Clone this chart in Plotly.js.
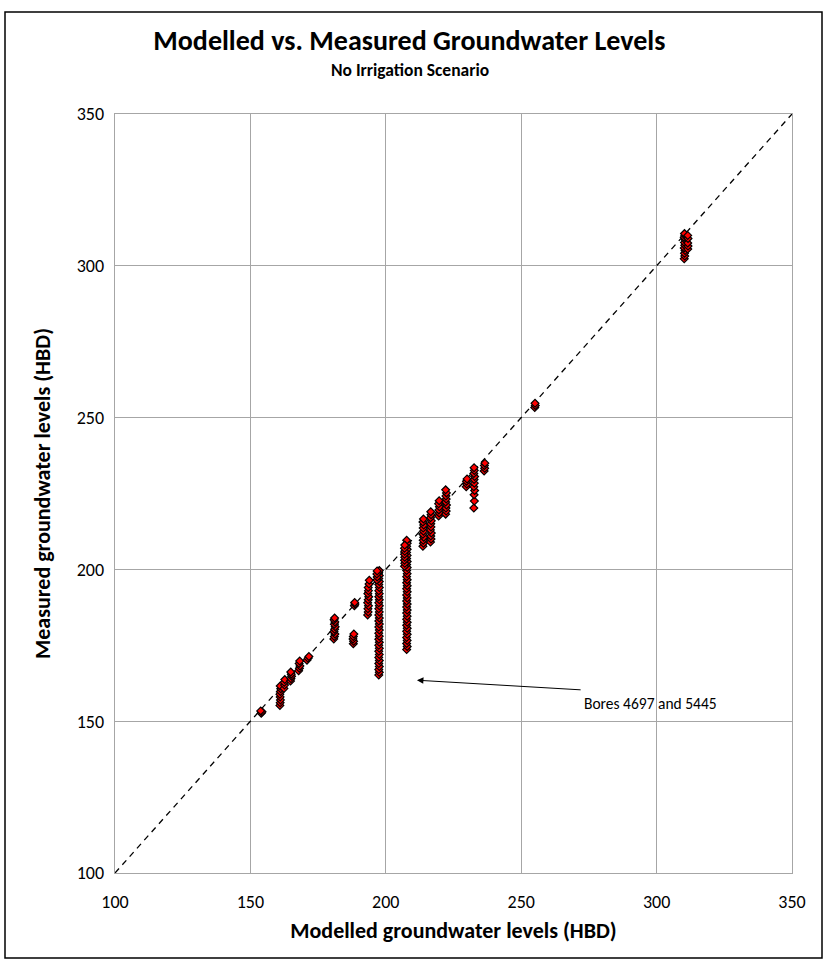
<!DOCTYPE html>
<html>
<head>
<meta charset="utf-8">
<script src="https://cdn.plot.ly/plotly-3.0.1.min.js"></script>
<style>
html,body{margin:0;padding:0;background:#fff;}
#chart{width:827px;height:970px;}
</style>
</head>
<body>
<div id="chart"></div>
<script>
// Modelled (x) vs measured (y) groundwater levels, HBD
const modelledHBD = [
  154.0,154.3,153.8,
  160.9,161.0,161.1,161.0,160.9,161.1,161.2,161.0,
  162.4,162.6,162.5,162.7,
  164.8,165.0,165.2,165.1,164.9,
  167.8,168.1,168.3,168.0,168.2,
  170.9,171.3,171.6,
  180.8,181.0,181.2,180.9,181.1,181.3,181.0,181.2,180.9,181.1,
  188.4,188.6,188.5,
  188.0,188.1,187.9,188.0,188.2,
  193.3,193.5,193.4,193.6,193.3,193.5,193.7,193.4,193.6,193.5,193.8,193.9,
  197.4,197.6,197.4,197.6,197.4,197.6,197.4,197.6,197.4,197.6,197.4,197.6,197.4,197.6,197.4,197.6,197.4,197.6,
  197.4,197.6,197.4,197.6,197.4,197.6,197.4,197.6,197.4,197.6,197.4,197.6,197.4,197.6,197.4,197.6,197.4,197.6,
  196.7,196.8,196.7,196.8,
  207.7,207.9,207.7,207.9,207.7,207.9,207.7,207.9,207.7,207.9,207.7,207.9,207.7,207.9,207.7,207.9,207.7,207.9,207.7,
  207.9,207.7,207.9,207.7,207.9,207.7,207.9,207.7,207.9,207.7,207.9,207.7,207.9,207.7,207.9,207.7,207.9,207.7,
  206.9,207.0,206.9,207.0,206.9,207.0,206.9,207.0,
  213.7,213.9,213.8,214.0,213.7,213.9,213.8,214.0,213.7,213.9,
  216.5,216.7,216.6,216.8,216.5,216.7,216.6,216.8,216.5,216.7,216.6,
  219.5,219.7,219.6,219.8,219.5,219.7,
  222.1,222.3,222.2,222.4,222.1,222.3,222.2,222.4,222.1,
  229.7,229.9,229.8,230.0,
  232.5,232.7,232.6,232.8,232.5,232.7,232.6,232.8,232.5,232.7,232.6,
  236.3,236.5,236.4,236.6,
  255.0,255.2,255.1,
  310.2,310.4,310.3,310.5,310.2,310.4,310.3,310.5,310.2,310.4,310.3,
  311.5,311.6,311.5,311.6,311.5
];
const measuredHBD = [
  152.6,153.1,153.4,
  155.2,156.1,157.0,158.0,158.9,159.8,160.7,161.6,
  160.8,161.9,162.8,163.7,
  163.2,164.0,164.8,165.5,166.2,
  166.6,167.4,168.2,169.0,169.8,
  170.1,170.7,171.3,
  177.1,177.9,178.7,179.5,180.3,181.1,181.9,182.7,183.4,184.0,
  188.0,188.6,189.1,
  175.5,176.3,177.1,177.9,178.7,
  185.0,186.0,187.0,188.0,189.0,190.0,191.0,192.0,193.0,194.0,195.2,196.4,
  165.2,166.1,167.0,168.0,169.0,170.0,171.0,172.0,173.0,174.0,175.0,176.0,177.0,178.0,179.0,180.0,181.0,182.0,
  183.0,184.0,185.0,186.0,187.0,188.0,189.0,190.0,191.0,192.0,193.0,194.0,195.0,196.0,197.0,198.0,199.0,199.6,
  196.5,197.5,198.5,199.5,
  173.6,174.6,175.6,176.6,177.6,178.6,179.6,180.6,181.6,182.6,183.6,184.6,185.6,186.6,187.6,188.6,189.6,190.6,191.6,
  192.6,193.6,194.6,195.6,196.6,197.6,198.6,199.6,200.6,201.6,202.6,203.6,204.6,205.6,206.6,207.6,208.6,209.6,
  201.0,202.0,203.0,204.0,205.0,206.0,207.0,208.0,
  207.6,208.6,209.6,210.6,211.6,212.6,213.6,214.6,215.6,216.6,
  209.0,210.0,211.0,212.0,213.0,214.0,215.0,216.0,217.0,218.0,219.0,
  217.6,218.6,219.6,220.6,221.6,222.6,
  218.2,219.2,220.2,221.2,222.2,223.2,224.2,225.2,226.2,
  227.2,228.1,229.0,229.8,
  220.2,222.5,224.6,226.0,227.2,228.4,229.6,230.6,231.6,232.6,233.5,
  232.4,233.3,234.2,235.0,
  253.3,254.0,254.7,
  302.3,303.2,304.1,305.0,305.9,306.8,307.7,308.6,309.4,310.1,310.6,
  305.5,306.5,307.5,309.0,310.0
];
const oneToOne = [100, 350];
const tickVals = [100, 150, 200, 250, 300, 350];
const chartTitle = "Modelled vs. Measured Groundwater Levels";
const chartSubtitle = "No Irrigation Scenario";
const xTitle = "Modelled groundwater levels (HBD)";
const yTitle = "Measured groundwater levels (HBD)";
const noteText = "Bores 4697 and 5445";
const notePoint = [211.5, 163.5];
const noteTail = [272.5, 160.3];

const FONT = "Carlito, Calibri, Lato, 'Liberation Sans', sans-serif";

const traces = [
  {
    x: oneToOne, y: oneToOne, type: 'scatter', mode: 'lines',
    line: {color: '#000', width: 1.3, dash: '6px,5px'},
    hoverinfo: 'skip', showlegend: false
  },
  {
    x: modelledHBD, y: measuredHBD, type: 'scatter', mode: 'markers',
    marker: {symbol: 'diamond', size: 6, color: '#ff0000', line: {color: '#000', width: 1.2}},
    showlegend: false
  }
];

const L = 115, R = 35, T = 114, B = 97, W = 827, H = 970;
const pw = W - L - R, ph = H - T - B;
function px2paperX(p){ return (p - L) / pw; }
function px2paperY(p){ return (H - B - p) / ph; }

const layout = {
  width: W, height: H,
  margin: {l: L, r: R, t: T, b: B},
  paper_bgcolor: '#fff', plot_bgcolor: '#fff',
  font: {family: FONT, color: '#000', size: 18},
  title: {
    text: '<b>' + chartTitle + '</b>',
    font: {family: FONT, size: 28, color: '#000'},
    x: 0.495, xanchor: 'center', y: 1 - 40/H, yanchor: 'middle'
  },
  xaxis: {
    range: [100, 350], tickvals: tickVals, ticks: '',
    showgrid: true, gridcolor: '#a6a6a6', gridwidth: 1.3,
    showline: true, linecolor: '#a6a6a6', linewidth: 1.3, mirror: true,
    zeroline: false, tickfont: {size: 18}, ticklabelstandoff: 12,
    title: {text: '<b>' + xTitle + '</b>', font: {size: 22}, standoff: 10}
  },
  yaxis: {
    range: [100, 350], tickvals: tickVals, ticks: '',
    showgrid: true, gridcolor: '#a6a6a6', gridwidth: 1.3,
    showline: true, linecolor: '#a6a6a6', linewidth: 1.3, mirror: true,
    zeroline: false, tickfont: {size: 18}, ticklabelstandoff: 6,
    title: {text: '<b>' + yTitle + '</b>', font: {size: 22}, standoff: 20}
  },
  annotations: [
    {
      xref: 'paper', yref: 'paper', x: px2paperX(410), y: px2paperY(70),
      text: '<b>' + chartSubtitle + '</b>', showarrow: false,
      font: {size: 17.5}, xanchor: 'center', yanchor: 'middle'
    },
    {
      x: notePoint[0], y: notePoint[1], xref: 'x', yref: 'y',
      ax: noteTail[0], ay: noteTail[1], axref: 'x', ayref: 'y',
      showarrow: true, arrowhead: 2, arrowsize: 1.3, arrowwidth: 1, arrowcolor: '#000',
      text: ''
    },
    {
      x: noteTail[0], y: noteTail[1], xref: 'x', yref: 'y',
      text: noteText, showarrow: false, xanchor: 'left', yanchor: 'top',
      font: {size: 15.5}, yshift: -2
    }
  ],
  shapes: [
    {
      type: 'rect', xref: 'paper', yref: 'paper',
      x0: px2paperX(5), x1: px2paperX(822), y0: px2paperY(958), y1: px2paperY(12),
      line: {color: '#000', width: 1.5}, fillcolor: 'rgba(0,0,0,0)', layer: 'below'
    }
  ]
};

Plotly.newPlot('chart', traces, layout, {displayModeBar: false, staticPlot: true});
</script>
</body>
</html>
